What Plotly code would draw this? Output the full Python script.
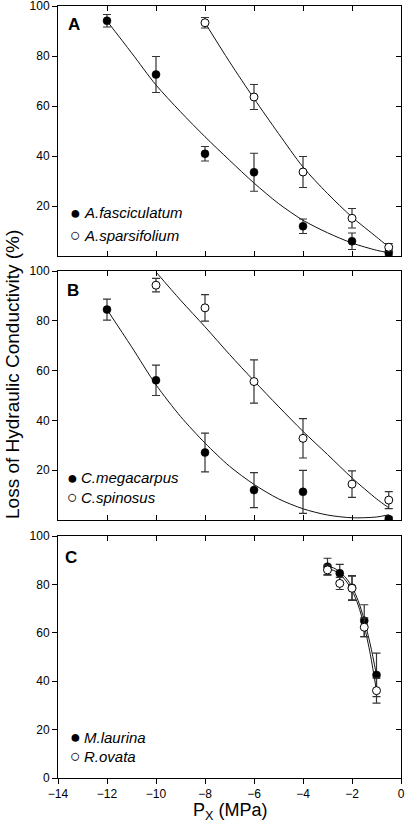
import plotly.graph_objects as go

# ---------------- data ----------------
# Panel A
a_fasc_x = [-12, -10, -8, -6, -4, -2, -0.5]
a_fasc_y = [94.1, 72.6, 40.9, 33.5, 11.9, 5.9, 1.3]
a_fasc_err = [2.5, 7.2, 2.9, 7.6, 2.9, 3.3, 1.0]
a_spar_x = [-8, -6, -4, -2, -0.5]
a_spar_y = [93.3, 63.6, 33.6, 15.1, 3.5]
a_spar_err = [2.1, 5.0, 6.2, 3.9, 1.5]
a_fasc_fit_x = [-12, -11, -10, -9, -8, -7, -6, -5, -4, -3, -2, -1, -0.5]
a_fasc_fit_y = [94.0, 81.3, 68.4, 57.7, 47.7, 38.3, 29.2, 21.0, 14.3, 9.3, 5.2, 2.3, 1.3]
a_spar_fit_x = [-8, -7, -6, -5, -4, -3, -2, -1, -0.5]
a_spar_fit_y = [93.3, 77.7, 63.0, 49.0, 35.6, 25.0, 15.6, 7.6, 3.6]

# Panel B
b_mega_x = [-12, -10, -8, -6, -4, -0.5]
b_mega_y = [84.5, 56.1, 27.1, 12.0, 11.3, 0.4]
b_mega_err = [4.2, 6.1, 7.8, 7.0, 8.6, 0.8]
b_spin_x = [-10, -8, -6, -4, -2, -0.5]
b_spin_y = [94.3, 85.2, 55.6, 32.8, 14.4, 8.0]
b_spin_err = [2.7, 5.3, 8.7, 7.9, 5.3, 3.4]
b_mega_fit_x = [-12, -11, -10, -9, -8, -7, -6, -5, -4, -3, -2, -1, -0.5]
b_mega_fit_y = [84.5, 69.6, 54.3, 41.6, 30.9, 21.6, 14.3, 8.5, 4.5, 2.0, 0.9, 1.2, 2.1]
b_spin_fit_x = [-10, -9, -8, -7, -6, -5, -4, -3, -2, -1, -0.5]
b_spin_fit_y = [99.6, 88.3, 77.6, 66.5, 55.9, 45.6, 35.6, 26.3, 16.9, 8.5, 4.9]

# Panel C
c_laur_x = [-3, -2.5, -2, -1.5, -1]
c_laur_y = [87.3, 84.6, 78.6, 65.0, 42.6]
c_laur_err = [3.5, 3.7, 5.0, 6.6, 9.0]
c_ovat_x = [-3, -2.5, -2, -1.5, -1]
c_ovat_y = [86.0, 80.4, 78.4, 62.3, 36.1]
c_ovat_err = [2.0, 2.5, 5.0, 3.9, 5.2]
c_laur_fit_x = [-3, -2.75, -2.5, -2.25, -2, -1.75, -1.5, -1.25, -1]
c_laur_fit_y = [87.3, 86.8, 85.2, 82.7, 79.0, 73.3, 65.3, 55.0, 42.5]
c_ovat_fit_x = [-3, -2.75, -2.5, -2.25, -2, -1.75, -1.5, -1.25, -1]
c_ovat_fit_y = [86.2, 85.8, 84.2, 81.5, 77.5, 71.5, 62.8, 51.0, 36.0]

x_ticks = [-14, -12, -10, -8, -6, -4, -2, 0]
y_ticks_ab = [20, 40, 60, 80, 100]
y_ticks_c = [0, 20, 40, 60, 80, 100]

panel_letters = ["A", "B", "C"]
legend_names = [("A.fasciculatum", "A.sparsifolium"),
                ("C.megacarpus", "C.spinosus"),
                ("M.laurina", "R.ovata")]
y_title = "Loss of Hydraulic Conductivity (%)"
x_title = "P<sub>X</sub> (MPa)"

# ---------------- figure ----------------
W, H = 406, 827
ML, MR, MT, MB = 58, 5, 6, 49
PW = W - ML - MR
PH = H - MT - MB
FONT = "Liberation Sans, Arial, sans-serif"


def px(xp):
    return (xp - ML) / PW


def py(yp):
    return (H - MB - yp) / PH


domains = [
    [py(256), 1.0],
    [py(520), py(271)],
    [0.0, py(536)],
]

fig = go.Figure()

panels = [
    (a_fasc_x, a_fasc_y, a_fasc_err, a_spar_x, a_spar_y, a_spar_err,
     a_fasc_fit_x, a_fasc_fit_y, a_spar_fit_x, a_spar_fit_y),
    (b_mega_x, b_mega_y, b_mega_err, b_spin_x, b_spin_y, b_spin_err,
     b_mega_fit_x, b_mega_fit_y, b_spin_fit_x, b_spin_fit_y),
    (c_laur_x, c_laur_y, c_laur_err, c_ovat_x, c_ovat_y, c_ovat_err,
     c_laur_fit_x, c_laur_fit_y, c_ovat_fit_x, c_ovat_fit_y),
]

for i, p in enumerate(panels):
    (fx, fy, fe, ox, oy, oe, ffx, ffy, ofx, ofy) = p
    xa = "x" if i == 0 else f"x{i+1}"
    ya = "y" if i == 0 else f"y{i+1}"
    # fitted curves
    for cx, cy in ((ffx, ffy), (ofx, ofy)):
        fig.add_trace(go.Scatter(x=cx, y=cy, mode="lines",
                                 line=dict(color="#111", width=1, shape="spline", smoothing=0.8),
                                 xaxis=xa, yaxis=ya, showlegend=False, hoverinfo="skip"))
    # filled markers
    fig.add_trace(go.Scatter(x=fx, y=fy, mode="markers",
                             marker=dict(color="black", size=8, line=dict(color="black", width=0.5)),
                             error_y=dict(type="data", array=fe, visible=True,
                                          color="#333", thickness=1.2, width=4),
                             xaxis=xa, yaxis=ya, name=legend_names[i][0], showlegend=False))
    # open markers
    fig.add_trace(go.Scatter(x=ox, y=oy, mode="markers",
                             marker=dict(color="white", size=8, line=dict(color="black", width=1)),
                             error_y=dict(type="data", array=oe, visible=True,
                                          color="#333", thickness=1.2, width=4),
                             xaxis=xa, yaxis=ya, name=legend_names[i][1], showlegend=False))
    # invisible trace for mirror axes
    fig.add_trace(go.Scatter(x=[-20], y=[-20], mode="markers", marker=dict(opacity=0),
                             xaxis=f"x{i+4}", yaxis=f"y{i+4}",
                             showlegend=False, hoverinfo="skip"))

axis_font = dict(family=FONT, size=12, color="black")
layout = {}
for i in range(3):
    k = "" if i == 0 else str(i + 1)
    last = (i == 2)
    layout[f"xaxis{k}"] = dict(
        domain=[0, 1], anchor=f"y{k}", range=[-14, 0], automargin=False,
        tickvals=x_ticks, showticklabels=last, ticklabeloverflow="allow",
        ticks="outside" if last else "inside", ticklen=5, tickwidth=1, tickcolor="black",
        showline=True, linecolor="black", linewidth=1,
        showgrid=False, zeroline=False, tickfont=axis_font,
    )
    layout[f"yaxis{k}"] = dict(
        domain=domains[i], anchor=f"x{k}", range=[0, 100], automargin=False,
        tickvals=y_ticks_c if last else y_ticks_ab, ticklabeloverflow="allow",
        ticks="outside", ticklen=5, tickwidth=1, tickcolor="black",
        showline=True, linecolor="black", linewidth=1,
        showgrid=False, zeroline=False, tickfont=axis_font,
    )
    j = i + 4
    layout[f"xaxis{j}"] = dict(
        overlaying="x" if i == 0 else f"x{i+1}", side="top", anchor=f"y{j}",
        range=[-14, 0], tickvals=x_ticks, showticklabels=False, automargin=False,
        ticks="inside", ticklen=5, tickwidth=1, tickcolor="black",
        showline=True, linecolor="black", linewidth=1,
        showgrid=False, zeroline=False,
    )
    layout[f"yaxis{j}"] = dict(
        overlaying="y" if i == 0 else f"y{i+1}", side="right", anchor=f"x{j}",
        range=[0, 100], tickvals=y_ticks_c, showticklabels=False, automargin=False,
        ticks="inside", ticklen=5, tickwidth=1, tickcolor="black",
        showline=True, linecolor="black", linewidth=1,
        showgrid=False, zeroline=False,
    )

annotations = []
# panel letters
letter_pos = [(74, 25), (73, 290), (71, 557)]
for (lx, ly), t in zip(letter_pos, panel_letters):
    annotations.append(dict(x=px(lx), y=py(ly), xref="paper", yref="paper",
                            text=f"<b>{t}</b>", showarrow=False,
                            font=dict(family=FONT, size=17, color="black"),
                            xanchor="center", yanchor="middle"))
# legends
legend_pos = [((75, 82), (213, 235)), ((72, 79), (478, 497)), ((75, 82), (737, 756))]
for i, ((sx, tx), rows) in enumerate(legend_pos):
    for r, (sym, name) in enumerate(zip(("●", "○"), legend_names[i])):
        annotations.append(dict(x=px(sx), y=py(rows[r]), xref="paper", yref="paper",
                                text=sym, showarrow=False,
                                font=dict(family=FONT, size=18, color="black"),
                                xanchor="center", yanchor="middle"))
        annotations.append(dict(x=px(tx), y=py(rows[r]), xref="paper", yref="paper",
                                text=f"<i>{name}</i>", showarrow=False,
                                font=dict(family=FONT, size=15, color="black"),
                                xanchor="left", yanchor="middle"))
# axis titles
annotations.append(dict(x=px(12), y=py(375), xref="paper", yref="paper",
                        text=y_title, textangle=-90, showarrow=False,
                        font=dict(family=FONT, size=19, color="black"),
                        xanchor="center", yanchor="middle"))
annotations.append(dict(x=px(230), y=py(811), xref="paper", yref="paper",
                        text=x_title, showarrow=False,
                        font=dict(family=FONT, size=18, color="black"),
                        xanchor="center", yanchor="middle"))

fig.update_layout(
    template="none",
    width=W, height=H,
    margin=dict(l=ML, r=MR, t=MT, b=MB, pad=0),
    paper_bgcolor="white", plot_bgcolor="white",
    showlegend=False,
    annotations=annotations,
    **layout,
)

fig.write_html(
    "out.html",
    config={"displayModeBar": False},
    post_script="document.body.style.margin='0';document.body.style.overflow='hidden';",
)
